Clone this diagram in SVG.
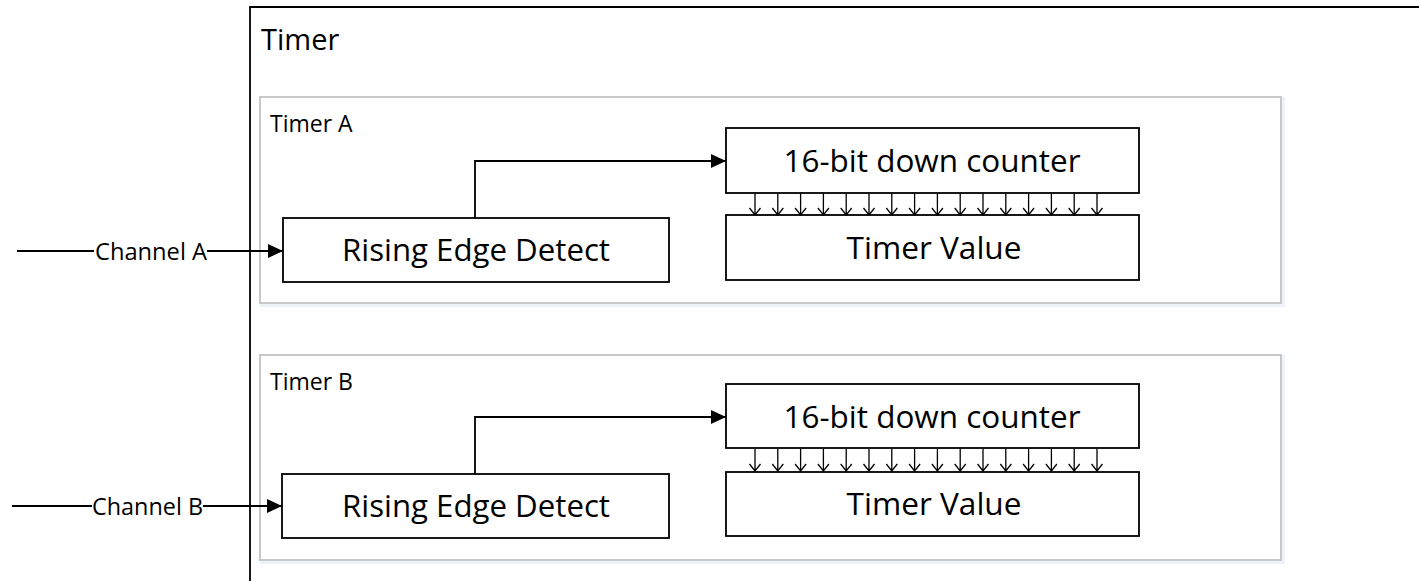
<svg xmlns="http://www.w3.org/2000/svg" width="1419" height="581" viewBox="0 0 1419 581">
<style>
  .box{fill:#fff;stroke:#000;stroke-width:1.8}
  .panel{fill:#fff;stroke:#c8c8c8;stroke-width:2}
  .shadow{fill:none;stroke:#eef3f9;stroke-width:4}
  .t{font-family:"Open Sans","Noto Sans",sans-serif;fill:#000}
  .big{font-size:31.5px;text-anchor:middle}
  .lbl{font-size:23px}
  .conn{fill:none;stroke:#000;stroke-width:1.8}
  .bit{fill:none;stroke:#000;stroke-width:1.3}
</style>
<defs>
  <marker id="ah" markerWidth="15" markerHeight="14" refX="15" refY="7" orient="auto" markerUnits="userSpaceOnUse">
    <path d="M0,0 L15,7 L0,14 Z" fill="#000"/>
  </marker>
  <g id="bits">
    <path class="bit" d="M0,0 V22 M-5.5,15 L0,22 L5.5,15"/>
  </g>
</defs>
<rect width="1419" height="581" fill="#fff"/>

<g id="timer">
  <path d="M250,581 V7 H1419" fill="none" stroke="#000" stroke-width="1.8"/>
  <text class="t" x="261" y="50" font-size="29">Timer</text>
</g>

<g id="timerA">
  <rect class="shadow" x="262" y="99" width="1021" height="206"/>
  <rect class="panel" x="260" y="97" width="1021" height="206"/>
  <text class="t lbl" x="270" y="132">Timer A</text>
</g>
<g id="timerB">
  <rect class="shadow" x="262" y="357" width="1021" height="205"/>
  <rect class="panel" x="260" y="355" width="1021" height="205"/>
  <text class="t lbl" x="270" y="390">Timer B</text>
</g>

<g id="redA">
  <rect class="box" x="283" y="218" width="386" height="64"/>
  <text class="t big" x="476" y="261" textLength="268" lengthAdjust="spacingAndGlyphs">Rising Edge Detect</text>
</g>
<g id="counterA">
  <rect class="box" x="726" y="128" width="413" height="65"/>
  <text class="t big" x="932" y="172" textLength="297" lengthAdjust="spacingAndGlyphs">16-bit down counter</text>
</g>
<g id="valueA">
  <rect class="box" x="726" y="215" width="413" height="65"/>
  <text class="t big" x="934" y="258.5" textLength="175" lengthAdjust="spacingAndGlyphs">Timer Value</text>
</g>

<g id="redB">
  <rect class="box" x="282" y="474" width="387" height="64"/>
  <text class="t big" x="476" y="517" textLength="268" lengthAdjust="spacingAndGlyphs">Rising Edge Detect</text>
</g>
<g id="counterB">
  <rect class="box" x="726" y="384" width="413" height="64"/>
  <text class="t big" x="932" y="428" textLength="297" lengthAdjust="spacingAndGlyphs">16-bit down counter</text>
</g>
<g id="valueB">
  <rect class="box" x="726" y="472" width="413" height="64"/>
  <text class="t big" x="934" y="515" textLength="175" lengthAdjust="spacingAndGlyphs">Timer Value</text>
</g>

<g id="connectors">
  <line class="conn" x1="17" y1="251" x2="94" y2="251"/>
  <text class="t lbl" x="95" y="259.5" textLength="112" lengthAdjust="spacingAndGlyphs">Channel A</text>
  <line class="conn" x1="207" y1="251" x2="283" y2="251" marker-end="url(#ah)"/>
  <line class="conn" x1="12" y1="506" x2="92" y2="506"/>
  <text class="t lbl" x="92" y="514.5" textLength="111" lengthAdjust="spacingAndGlyphs">Channel B</text>
  <line class="conn" x1="203" y1="506" x2="282" y2="506" marker-end="url(#ah)"/>

  <path class="conn" d="M475,218 V161 H726" marker-end="url(#ah)"/>
  <path class="conn" d="M475,474 V417 H726" marker-end="url(#ah)"/>

  <g transform="translate(0,193)">
    <use href="#bits" x="755"/><use href="#bits" x="777.8"/><use href="#bits" x="800.6"/><use href="#bits" x="823.4"/>
    <use href="#bits" x="846.2"/><use href="#bits" x="869"/><use href="#bits" x="891.8"/><use href="#bits" x="914.6"/>
    <use href="#bits" x="937.4"/><use href="#bits" x="960.2"/><use href="#bits" x="983"/><use href="#bits" x="1005.8"/>
    <use href="#bits" x="1028.6"/><use href="#bits" x="1051.4"/><use href="#bits" x="1074.2"/><use href="#bits" x="1097"/>
  </g>
  <g transform="translate(0,449)">
    <use href="#bits" x="755"/><use href="#bits" x="777.8"/><use href="#bits" x="800.6"/><use href="#bits" x="823.4"/>
    <use href="#bits" x="846.2"/><use href="#bits" x="869"/><use href="#bits" x="891.8"/><use href="#bits" x="914.6"/>
    <use href="#bits" x="937.4"/><use href="#bits" x="960.2"/><use href="#bits" x="983"/><use href="#bits" x="1005.8"/>
    <use href="#bits" x="1028.6"/><use href="#bits" x="1051.4"/><use href="#bits" x="1074.2"/><use href="#bits" x="1097"/>
  </g>
</g>
</svg>
